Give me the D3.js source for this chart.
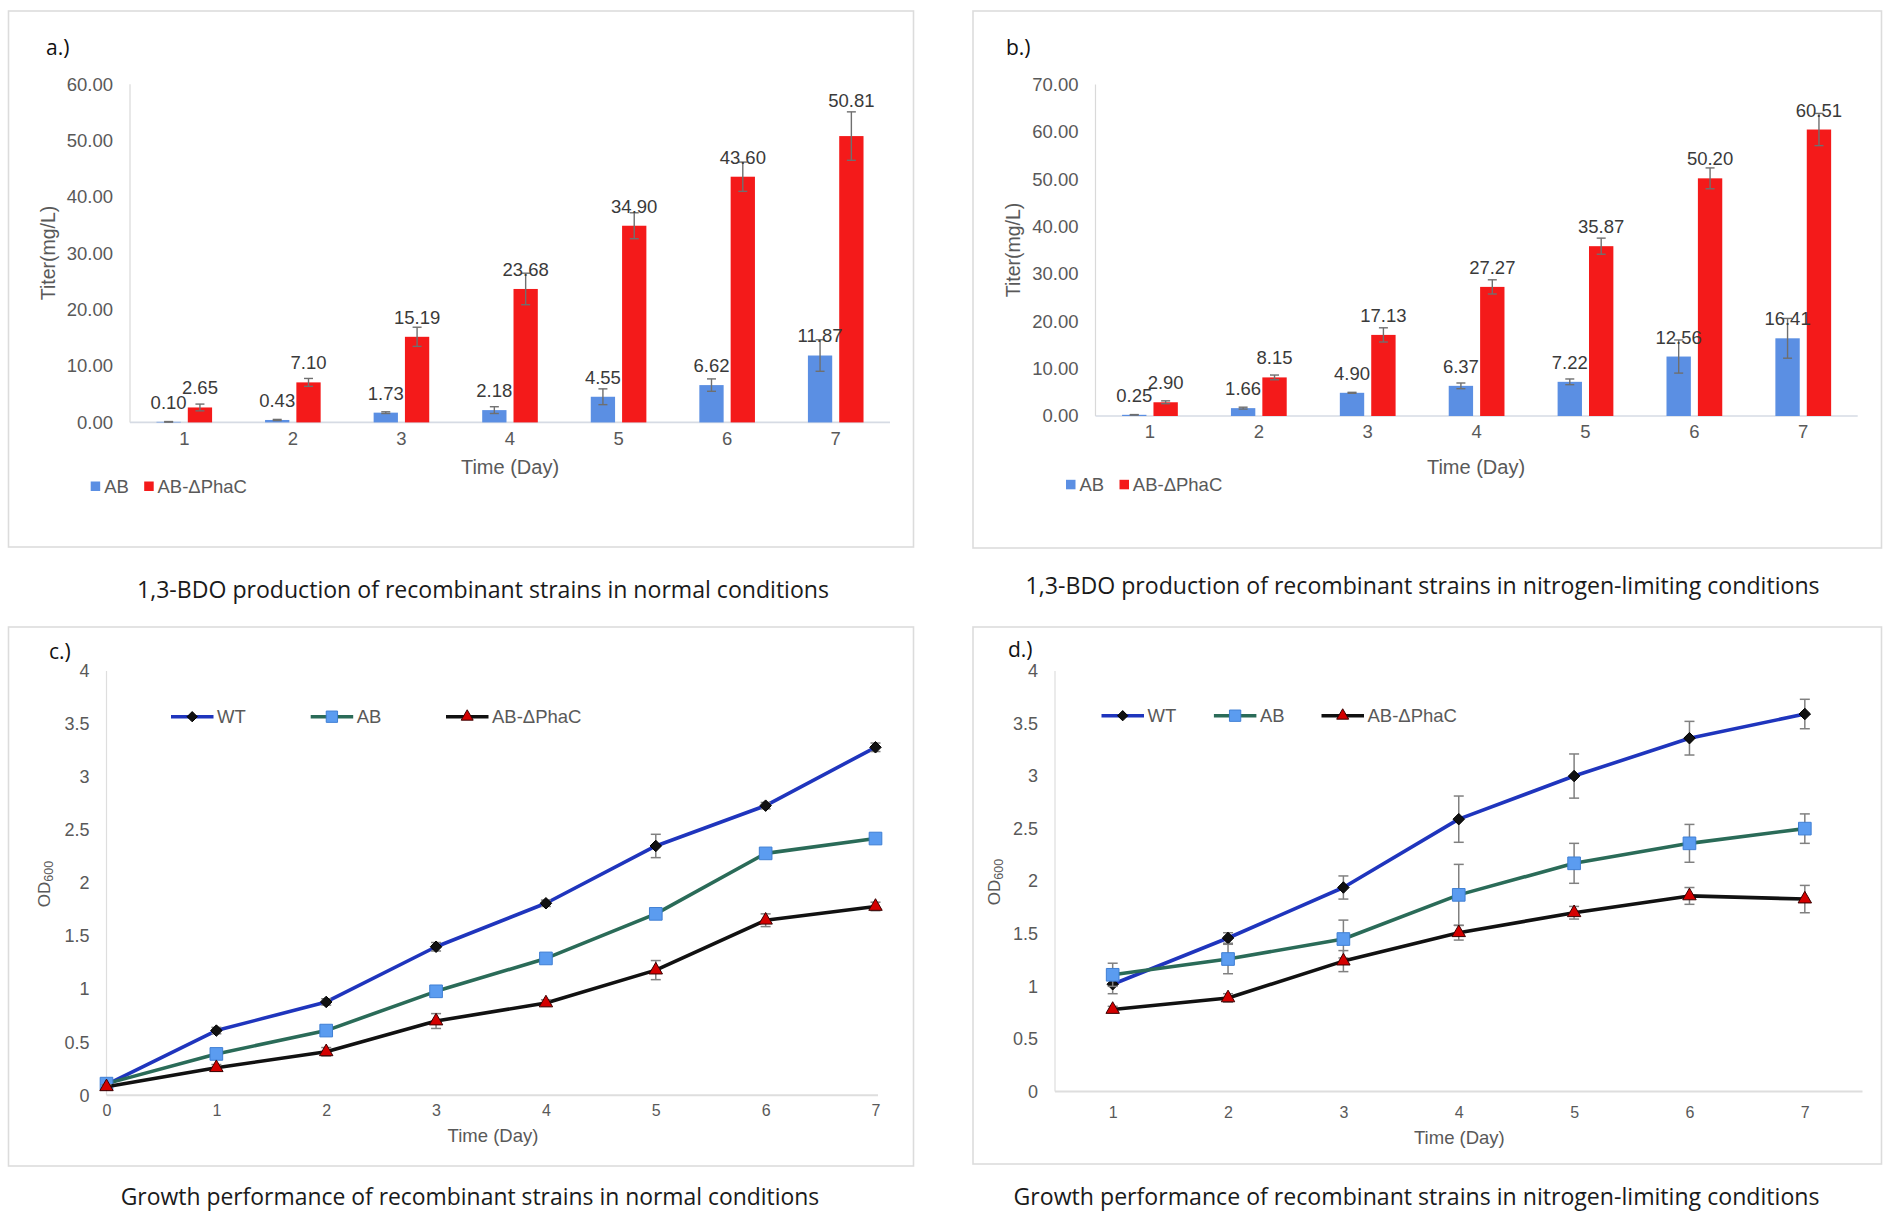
<!DOCTYPE html>
<html><head><meta charset="utf-8">
<script src="https://cdn.jsdelivr.net/npm/d3@7"></script>
<style>body{margin:0;background:#fff;} svg{display:block}</style>
</head><body>
<svg id="chart" width="1892" height="1225"></svg>
<script>
// ---------------- DATA ----------------
const days = ["1","2","3","4","5","6","7"];
const daysFrom0 = [0,1,2,3,4,5,6,7];
const barSeries = ["AB","AB-ΔPhaC"];
const lineSeries = ["WT","AB","AB-ΔPhaC"];
const titerTicksA = [0,10,20,30,40,50,60];
const titerTicksB = [0,10,20,30,40,50,60,70];
const odTicks = [0,0.5,1,1.5,2,2.5,3,3.5,4];

// a.) normal conditions, titer (mg/L)
const aAB      = [0.10, 0.43, 1.73, 2.18, 4.55, 6.62, 11.87];
const aABErr   = [0.05, 0.10, 0.15, 0.60, 1.40, 1.10, 2.80];
const aPhaC    = [2.65, 7.10, 15.19, 23.68, 34.90, 43.60, 50.81];
const aPhaCErr = [0.60, 0.70, 1.70, 2.80, 2.30, 2.60, 4.30];

// b.) nitrogen-limiting, titer (mg/L)
const bAB      = [0.25, 1.66, 4.90, 6.37, 7.22, 12.56, 16.41];
const bABErr   = [0.05, 0.20, 0.10, 0.60, 0.60, 3.50, 4.20];
const bPhaC    = [2.90, 8.15, 17.13, 27.27, 35.87, 50.20, 60.51];
const bPhaCErr = [0.30, 0.50, 1.50, 1.50, 1.70, 2.20, 3.40];

// c.) growth, normal conditions (OD600), days 0..7
const cWT      = [0.10, 0.61, 0.88, 1.40, 1.81, 2.35, 2.73, 3.28];
const cWTErr   = [0.02, 0.03, 0.03, 0.04, 0.03, 0.11, 0.03, 0.04];
const cAB      = [0.11, 0.39, 0.61, 0.98, 1.29, 1.71, 2.28, 2.42];
const cABErr   = [0.02, 0.03, 0.03, 0.03, 0.03, 0.03, 0.03, 0.03];
const cPhaC    = [0.08, 0.26, 0.41, 0.70, 0.87, 1.18, 1.65, 1.78];
const cPhaCErr = [0.02, 0.03, 0.04, 0.07, 0.03, 0.09, 0.06, 0.04];

// d.) growth, nitrogen-limiting (OD600), days 1..7
const dWT      = [1.02, 1.46, 1.94, 2.59, 3.00, 3.36, 3.59];
const dWTErr   = [0.09, 0.05, 0.11, 0.22, 0.21, 0.16, 0.14];
const dAB      = [1.11, 1.26, 1.45, 1.87, 2.17, 2.36, 2.50];
const dABErr   = [0.11, 0.14, 0.18, 0.29, 0.19, 0.18, 0.14];
const dPhaC    = [0.78, 0.89, 1.24, 1.51, 1.70, 1.86, 1.83];
const dPhaCErr = [0.03, 0.04, 0.10, 0.07, 0.06, 0.08, 0.13];

const captions = [
  "1,3-BDO production of recombinant strains in normal conditions",
  "1,3-BDO production of recombinant strains in nitrogen-limiting conditions",
  "Growth performance of recombinant strains in normal conditions",
  "Growth performance of recombinant strains in nitrogen-limiting conditions"
];

// ---------------- STYLE ----------------
const FONT = "'Liberation Sans', Arial, Helvetica, sans-serif";
const CAP_FONT = "'Open Sans', 'Noto Sans', sans-serif";
const TICK = "#595959";
const barColors = ["#5b8fe3", "#f41a1a"];
const lineColors = ["#1f35bd", "#2a6b58", "#111111"];

const svg = d3.select("#chart");

function frame(x0, y0, x1, y1) {
  svg.append("rect").attr("x", x0).attr("y", y0)
    .attr("width", x1 - x0).attr("height", y1 - y0)
    .attr("fill", "none").attr("stroke", "#dcdcdc").attr("stroke-width", 1.6);
}
function letter(t, x, y) {
  svg.append("text").attr("x", x).attr("y", y).attr("dy", "0.35em")
    .attr("font-family", CAP_FONT).attr("font-size", 21).attr("font-weight", 500)
    .attr("fill", "#111").text(t);
}
function caption(t, cx, cy, len) {
  svg.append("text").attr("x", cx).attr("y", cy).attr("dy", "0.35em")
    .attr("text-anchor", "middle").attr("font-family", CAP_FONT)
    .attr("font-size", 23).attr("fill", "#1a1a1a")
    .attr("textLength", len).attr("lengthAdjust", "spacingAndGlyphs").text(t);
}
function styleAxis(sel, size) {
  sel.attr("font-family", FONT).attr("font-size", size);
  sel.select(".domain").remove();
  sel.selectAll("text").attr("fill", TICK);
}

// ---------------- BAR PANELS ----------------
function barPanel(c) {
  frame(...c.frame);
  letter(c.letter, c.letterPos[0], c.letterPos[1]);
  const x0 = d3.scaleBand().domain(days).range(c.xRange);
  const x1 = d3.scaleBand().domain(barSeries).range([0, x0.bandwidth()])
    .paddingInner(0.224).paddingOuter(0.846);
  const y = d3.scaleLinear().domain([0, c.yMax]).range(c.yRange);
  const g = svg.append("g");

  g.append("line").attr("x1", c.xRange[0]).attr("x2", c.xRange[0])
    .attr("y1", y(0)).attr("y2", y(c.yMax)).attr("stroke", "#d9d9d9").attr("stroke-width", 1.2);
  g.append("line").attr("x1", c.xRange[0]).attr("x2", c.xRange[1])
    .attr("y1", y(0)).attr("y2", y(0)).attr("stroke", "#d6dbe4").attr("stroke-width", 1.6);

  const ya = g.append("g").attr("transform", `translate(${c.xRange[0]},0)`)
    .call(d3.axisLeft(y).tickValues(c.yTicks).tickFormat(d3.format(".2f")).tickSize(0).tickPadding(17));
  styleAxis(ya, 18.5);
  const xa = g.append("g").attr("transform", `translate(0,${y(0)})`)
    .call(d3.axisBottom(x0).tickSize(0));
  styleAxis(xa, 18.5);
  xa.selectAll("text").attr("y", 16).attr("dy", "0.35em");

  const items = [];
  days.forEach((d, i) => c.values.forEach((arr, k) => {
    items.push({ day: d, s: barSeries[k], k, v: arr[i], e: c.errors[k][i], i });
  }));

  g.selectAll("rect.bar").data(items).join("rect").attr("class", "bar")
    .attr("x", d => x0(d.day) + x1(d.s)).attr("width", x1.bandwidth())
    .attr("y", d => y(d.v)).attr("height", d => y(0) - y(d.v))
    .attr("fill", d => barColors[d.k]);

  const cap = 4.5;
  const eg = g.selectAll("g.err").data(items).join("g").attr("class", "err")
    .attr("stroke", "#6f6f6f").attr("stroke-width", 1.4);
  eg.append("line")
    .attr("x1", d => x0(d.day) + x1(d.s) + x1.bandwidth() / 2)
    .attr("x2", d => x0(d.day) + x1(d.s) + x1.bandwidth() / 2)
    .attr("y1", d => y(Math.max(0, d.v - d.e))).attr("y2", d => y(d.v + d.e));
  [1, -1].forEach(sgn => {
    eg.append("line")
      .attr("x1", d => x0(d.day) + x1(d.s) + x1.bandwidth() / 2 - cap)
      .attr("x2", d => x0(d.day) + x1(d.s) + x1.bandwidth() / 2 + cap)
      .attr("y1", d => y(Math.max(0, d.v + sgn * d.e)))
      .attr("y2", d => y(Math.max(0, d.v + sgn * d.e)));
  });

  g.selectAll("text.lbl").data(items).join("text").attr("class", "lbl")
    .attr("x", d => x0(d.day) + x1(d.s) + x1.bandwidth() / 2)
    .attr("y", d => y(d.v) - 19.5 - ((c.liftLast && d.k === 1 && d.i === days.length - 1) ? c.liftLast : 0))
    .attr("dy", "0.35em").attr("text-anchor", "middle")
    .attr("font-family", FONT).attr("font-size", 18.5).attr("fill", "#3a3a3a")
    .text(d => d3.format(".2f")(d.v));

  // axis titles
  g.append("text").attr("x", c.xTitle[0]).attr("y", c.xTitle[1]).attr("dy", "0.35em")
    .attr("text-anchor", "middle").attr("font-family", FONT).attr("font-size", 20)
    .attr("fill", TICK).text("Time (Day)");
  g.append("text").attr("transform", `translate(${c.yTitle[0]},${c.yTitle[1]}) rotate(-90)`)
    .attr("dy", "0.35em").attr("text-anchor", "middle").attr("font-family", FONT)
    .attr("font-size", 19.5).attr("fill", TICK).text("Titer(mg/L)");

  // legend
  const lg = g.append("g").attr("transform", `translate(${c.legend[0]},${c.legend[1]})`);
  lg.append("rect").attr("x", 0).attr("y", -4.8).attr("width", 9.5).attr("height", 9.5).attr("fill", barColors[0]);
  lg.append("text").attr("x", 13.5).attr("dy", "0.35em").attr("font-family", FONT)
    .attr("font-size", 18.5).attr("fill", TICK).text(barSeries[0]);
  lg.append("rect").attr("x", 53.5).attr("y", -4.8).attr("width", 9.5).attr("height", 9.5).attr("fill", barColors[1]);
  lg.append("text").attr("x", 66.8).attr("dy", "0.35em").attr("font-family", FONT)
    .attr("font-size", 18.5).attr("fill", TICK).text(barSeries[1]);
}

// ---------------- LINE PANELS ----------------
const diamond = { draw(ctx, size) { const r = Math.sqrt(size) / 2;
  ctx.moveTo(0, -r); ctx.lineTo(r, 0); ctx.lineTo(0, r); ctx.lineTo(-r, 0); ctx.closePath(); } };
const markerDefs = [
  { type: diamond, size: 132, fill: "#111", stroke: "#000" },
  { type: d3.symbolSquare, size: 160, fill: "#5b9cf0", stroke: "#3f7fd4" },
  { type: d3.symbolTriangle, size: 78, fill: "#d40000", stroke: "#3a0000" }
];

function linePanel(c) {
  frame(...c.frame);
  letter(c.letter, c.letterPos[0], c.letterPos[1]);
  const xs = c.linear ? daysFrom0 : days;
  const x = c.linear ? d3.scaleLinear().domain([0, 7]).range(c.xRange)
                     : d3.scalePoint().domain(days).range(c.xRange).padding(0.5);
  const y = d3.scaleLinear().domain([0, 4]).range(c.yRange);
  const g = svg.append("g");

  g.append("line").attr("x1", c.axisX).attr("x2", c.axisX)
    .attr("y1", y(0)).attr("y2", y(4)).attr("stroke", "#dedede").attr("stroke-width", 1.2);
  g.append("line").attr("x1", c.axisX).attr("x2", c.axisRight)
    .attr("y1", y(0)).attr("y2", y(0)).attr("stroke", "#dedede").attr("stroke-width", 2);

  const ya = g.append("g").attr("transform", `translate(${c.axisX},0)`)
    .call(d3.axisLeft(y).tickValues(odTicks).tickFormat(d => String(d)).tickSize(0).tickPadding(17));
  styleAxis(ya, 18);
  const xa = g.append("g").attr("transform", `translate(0,${y(0)})`)
    .call(d3.axisBottom(x).tickValues(xs).tickFormat(d => String(d)).tickSize(0));
  styleAxis(xa, 16);
  xa.selectAll("text").attr("y", c.xTickDy).attr("dy", "0.35em");

  c.values.forEach((arr, k) => {
    const pts = arr.map((v, i) => ({ x: x(xs[i]), v, e: c.errors[k][i] }));
    g.append("path").datum(pts)
      .attr("d", d3.line().x(d => d.x).y(d => y(d.v)))
      .attr("fill", "none").attr("stroke", lineColors[k]).attr("stroke-width", 3.6)
      .attr("stroke-linejoin", "round");
    const eg = g.append("g").attr("stroke", "#808080").attr("stroke-width", 1.5);
    eg.selectAll("line.v").data(pts).join("line").attr("class", "v")
      .attr("x1", d => d.x).attr("x2", d => d.x)
      .attr("y1", d => y(d.v - d.e)).attr("y2", d => y(d.v + d.e));
    [1, -1].forEach(sgn => {
      eg.selectAll("line.c" + sgn).data(pts).join("line").attr("class", "c" + sgn)
        .attr("x1", d => d.x - 5).attr("x2", d => d.x + 5)
        .attr("y1", d => y(d.v + sgn * d.e)).attr("y2", d => y(d.v + sgn * d.e));
    });
    const m = markerDefs[k];
    g.selectAll("path.m" + k).data(pts).join("path").attr("class", "m" + k)
      .attr("transform", d => `translate(${d.x},${y(d.v)})`)
      .attr("d", d3.symbol().type(m.type).size(m.size))
      .attr("fill", m.fill).attr("stroke", m.stroke).attr("stroke-width", 1);
  });

  // axis titles
  g.append("text").attr("x", c.xTitle[0]).attr("y", c.xTitle[1]).attr("dy", "0.35em")
    .attr("text-anchor", "middle").attr("font-family", FONT).attr("font-size", 18.5)
    .attr("fill", TICK).text("Time (Day)");
  const yt = g.append("text").attr("transform", `translate(${c.yTitle[0]},${c.yTitle[1]}) rotate(-90)`)
    .attr("dy", "0.35em").attr("text-anchor", "middle").attr("font-family", FONT)
    .attr("fill", TICK);
  yt.append("tspan").attr("font-size", 17).text("OD");
  yt.append("tspan").attr("font-size", 12.5).attr("dy", 3).text("600");

  // legend
  c.legend.forEach((lx, k) => {
    const lg = g.append("g").attr("transform", `translate(${lx},${c.legendY})`);
    lg.append("line").attr("x1", 0).attr("x2", 42.5).attr("stroke", lineColors[k]).attr("stroke-width", 3.6);
    const m = markerDefs[k];
    lg.append("path").attr("transform", "translate(21.2,0)")
      .attr("d", d3.symbol().type(m.type).size(m.size * 0.8))
      .attr("fill", m.fill).attr("stroke", m.stroke).attr("stroke-width", 1);
    lg.append("text").attr("x", 46).attr("dy", "0.35em").attr("font-family", FONT)
      .attr("font-size", 18.5).attr("fill", TICK).text(lineSeries[k]);
  });
}

// ---------------- DRAW ----------------
barPanel({
  frame: [8.5, 11, 913.5, 547], letter: "a.)", letterPos: [46, 48],
  xRange: [130, 890], yRange: [422.4, 84.3], yMax: 60, yTicks: titerTicksA,
  values: [aAB, aPhaC], errors: [aABErr, aPhaCErr], liftLast: 16,
  xTitle: [510, 466.7], yTitle: [48, 253], legend: [90.7, 486.3]
});
barPanel({
  frame: [973, 11, 1881.5, 548], letter: "b.)", letterPos: [1006, 48],
  xRange: [1095.5, 1857.7], yRange: [416, 84.6], yMax: 70, yTicks: titerTicksB,
  values: [bAB, bPhaC], errors: [bABErr, bPhaCErr], liftLast: 0,
  xTitle: [1476, 467], yTitle: [1013.5, 250], legend: [1066, 484.6]
});
linePanel({
  frame: [8.5, 627, 913.5, 1166], letter: "c.)", letterPos: [49, 651.5],
  linear: true, xRange: [106.5, 875.5], yRange: [1095.3, 670.9],
  axisX: 106.5, axisRight: 878, xTickDy: 15,
  values: [cWT, cAB, cPhaC], errors: [cWTErr, cABErr, cPhaCErr],
  xTitle: [493, 1135.8], yTitle: [44, 884],
  legend: [171, 310.7, 446], legendY: 716.7
});
linePanel({
  frame: [973, 627, 1881.5, 1164], letter: "d.)", letterPos: [1008, 649.5],
  linear: false, xRange: [1055, 1862.5], yRange: [1091.5, 670.9],
  axisX: 1055, axisRight: 1862.5, xTickDy: 20.5,
  values: [dWT, dAB, dPhaC], errors: [dWTErr, dABErr, dPhaCErr],
  xTitle: [1459.4, 1138], yTitle: [994.5, 882],
  legend: [1101.5, 1213.9, 1321.5], legendY: 715.7
});

caption(captions[0], 483, 590, 692);
caption(captions[1], 1422.6, 586.4, 794);
caption(captions[2], 470, 1197, 698.6);
caption(captions[3], 1416.5, 1197, 806);
</script></body></html>
